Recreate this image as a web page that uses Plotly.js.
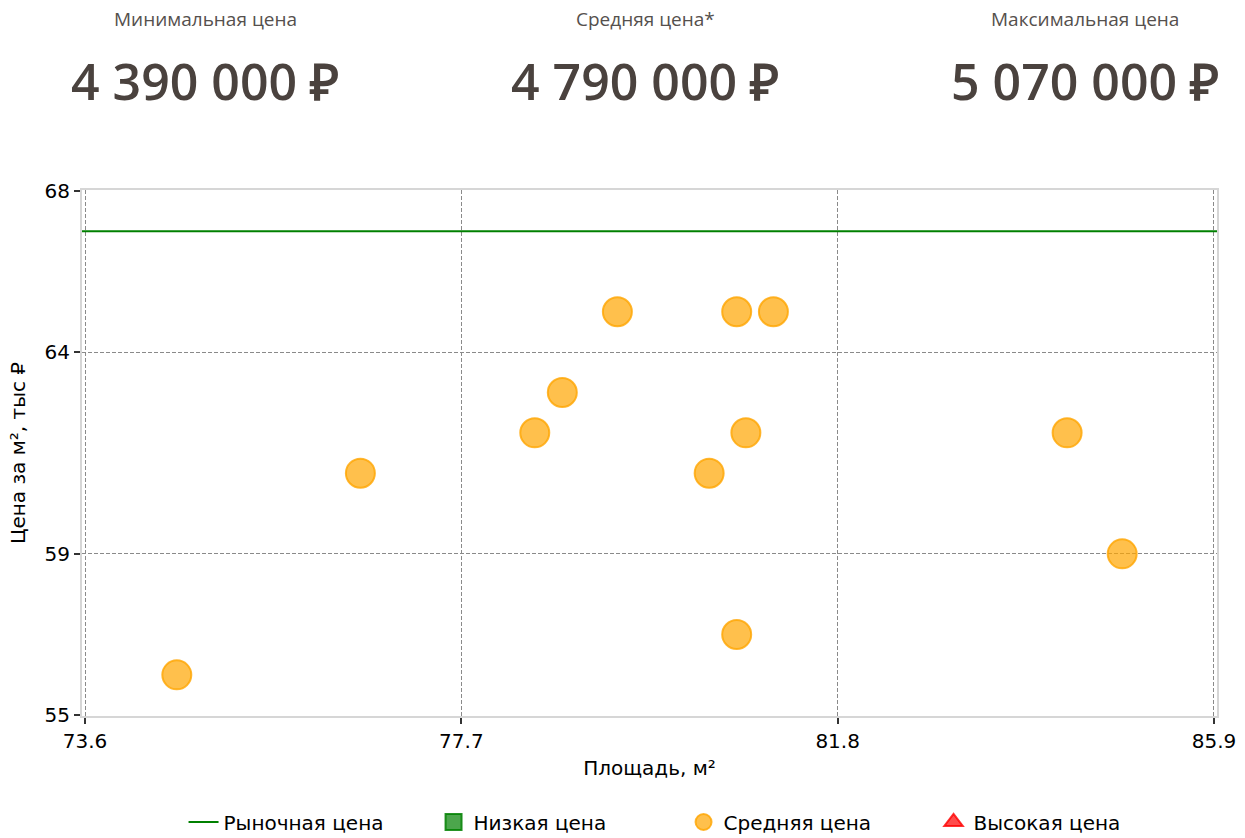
<!DOCTYPE html>
<html>
<head>
<meta charset="utf-8">
<script src="https://cdn.plot.ly/plotly-3.0.1.min.js"></script>
<style>
html,body{margin:0;padding:0;background:#fff;}
#chart{width:1245px;height:838px;}
</style>
</head>
<body>
<div id="chart"></div>
<script>
// Header summary
const summaryLabels = ["Минимальная цена", "Средняя цена*", "Максимальная цена"];
const summaryValues = ["4 390 000 ₽", "4 790 000 ₽", "5 070 000 ₽"];

// Scatter data: area (m²) vs price per m² (thousand ₽)
const areaMid = [74.6, 76.6, 78.5, 78.8, 79.4, 80.4, 80.7, 80.8, 80.7, 81.1, 84.3, 84.9];
const priceMid = [56, 61, 62, 63, 65, 61, 65, 62, 57, 65, 62, 59];

const marketPrice = 67;
const xRange = [73.567, 85.933];
const yRange = [54.98, 68.02];
const xTicks = [73.6, 77.7, 81.8, 85.9];
const yTicks = [55, 59, 64, 68];

const font = "DejaVu Sans, sans-serif";

const traces = [
  {
    type: "scatter", mode: "lines", name: "Рыночная цена",
    x: xRange, y: [marketPrice, marketPrice],
    line: {color: "#008000", width: 2},
    hoverinfo: "skip"
  },
  {
    type: "scatter", mode: "markers", name: "Низкая цена",
    x: [null], y: [null],
    marker: {symbol: "square", size: 26, color: "rgba(0,128,0,0.7)", line: {color: "rgba(0,128,0,0.85)", width: 2}}
  },
  {
    type: "scatter", mode: "markers", name: "Средняя цена",
    x: areaMid, y: priceMid,
    marker: {symbol: "circle", size: 29, color: "rgba(255,165,0,0.7)", line: {color: "rgba(255,165,0,0.8)", width: 2}}
  },
  {
    type: "scatter", mode: "markers", name: "Высокая цена",
    x: [null], y: [null],
    marker: {symbol: "triangle-up", size: 26, color: "rgba(255,0,0,0.7)", line: {color: "rgba(255,0,0,0.8)", width: 2}}
  }
];

const headerX = [205, 645, 1085];
const annotations = [];
summaryLabels.forEach((t, i) => {
  annotations.push({
    xref: "paper", yref: "paper",
    x: (headerX[i] - 82) / (1217 - 82), y: (716 - 19) / (716 - 190),
    xanchor: "center", yanchor: "middle", showarrow: false,
    text: t, font: {family: "Open Sans, sans-serif", size: 19, color: "#55504d"}
  });
  annotations.push({
    xref: "paper", yref: "paper",
    x: (headerX[i] - 82) / (1217 - 82), y: (716 - 81) / (716 - 190),
    xanchor: "center", yanchor: "middle", showarrow: false,
    text: summaryValues[i], font: {family: "Open Sans, sans-serif", size: 50, color: "#4a423e", weight: 600}
  });
});

const layout = {
  width: 1245, height: 838,
  margin: {l: 82, r: 28, t: 190, b: 122, autoexpand: false},
  paper_bgcolor: "#fff", plot_bgcolor: "#fff",
  font: {family: font, size: 20, color: "#000"},
  showlegend: true,
  legend: {
    orientation: "h", x: 0.53, xanchor: "center",
    yref: "container", y: 1 - 822 / 838, yanchor: "middle",
    font: {family: font, size: 20, color: "#000"},
    entrywidth: 205, itemsizing: "trace"
  },
  xaxis: {
    range: xRange, tickvals: xTicks, ticktext: xTicks.map(v => v.toFixed(1)),
    showgrid: true, gridcolor: "#8a8a8a", griddash: "4px,2px", gridwidth: 1,
    showline: true, linecolor: "#d6d6d6", linewidth: 2, mirror: true,
    ticks: "outside", ticklen: 6, tickwidth: 2, tickcolor: "#333",
    zeroline: false, automargin: false,
    ticklabelstandoff: 0,
    tickfont: {family: font, size: 20},
    title: {text: "Площадь, м²", font: {family: font, size: 20}, standoff: 9}
  },
  yaxis: {
    range: yRange, tickvals: yTicks,
    showgrid: true, gridcolor: "#8a8a8a", griddash: "4px,2px", gridwidth: 1,
    showline: true, linecolor: "#d6d6d6", linewidth: 2, mirror: true,
    ticks: "outside", ticklen: 6, tickwidth: 2, tickcolor: "#333",
    zeroline: false, automargin: false,
    tickfont: {family: font, size: 20},
    title: {text: "Цена за м², тыс ₽", font: {family: font, size: 20}, standoff: 14}
  },
  annotations: annotations
};

Plotly.newPlot("chart", traces, layout, {displayModeBar: false, staticPlot: true});
</script>
</body>
</html>
